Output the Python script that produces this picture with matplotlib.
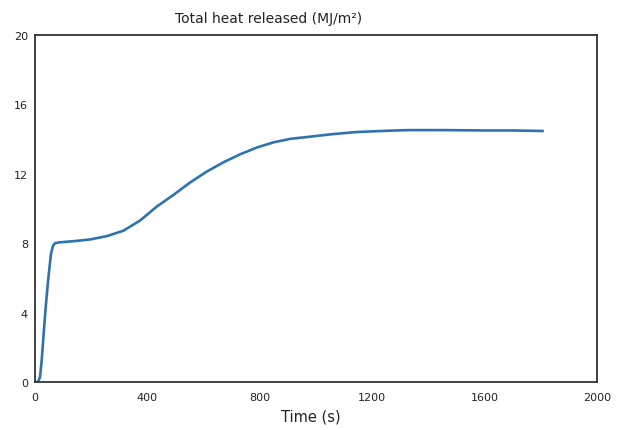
import numpy as np
import matplotlib
matplotlib.use("Agg")
import matplotlib.pyplot as plt

# time (s) and total heat released (MJ/m2)
time_s = [0, 6, 12, 18, 24, 30, 38, 47, 57, 64, 71, 85, 107, 150, 196, 255,
          314, 373, 433, 492, 551, 610, 670, 729, 790, 850, 910, 967,
          1060, 1145, 1250, 1323, 1450, 1600, 1700, 1806]
heat = [0.0, 0.0, 0.05, 0.3, 1.27, 2.6, 4.3, 5.9, 7.4, 7.85, 8.0, 8.05, 8.08,
        8.14, 8.22, 8.41, 8.72, 9.30, 10.11, 10.78, 11.49, 12.12, 12.66,
        13.12, 13.52, 13.82, 14.02, 14.12, 14.29, 14.41, 14.48, 14.52, 14.52,
        14.5, 14.5, 14.47]

x_ticks = [0, 400, 800, 1200, 1600, 2000]
y_ticks = [0, 4, 8, 12, 16, 20]

fig = plt.figure(figsize=(6.18, 4.31), dpi=100)
ax = fig.add_axes([0.0566, 0.111, 0.9094, 0.8055])

ax.plot(time_s, heat, color='#2f72b0', linewidth=1.9)

ax.set_xlim(0, 2000)
ax.set_ylim(0, 20)
ax.set_xticks(x_ticks)
ax.set_yticks(y_ticks)
ax.tick_params(axis='x', length=0, labelsize=8, colors='#222222', pad=7)
ax.tick_params(axis='y', length=0, labelsize=8, colors='#222222', pad=5)
for s in ax.spines.values():
    s.set_color('#333333')
    s.set_linewidth(1.3)

ax.set_title('Total heat released (MJ/m²)', fontsize=10, pad=9,
             color='#222222', x=0.416)
ax.set_xlabel('Time (s)', fontsize=10.5, color='#222222', labelpad=5, x=0.49)

fig.savefig('out.png', dpi=100)
plt.close(fig)
